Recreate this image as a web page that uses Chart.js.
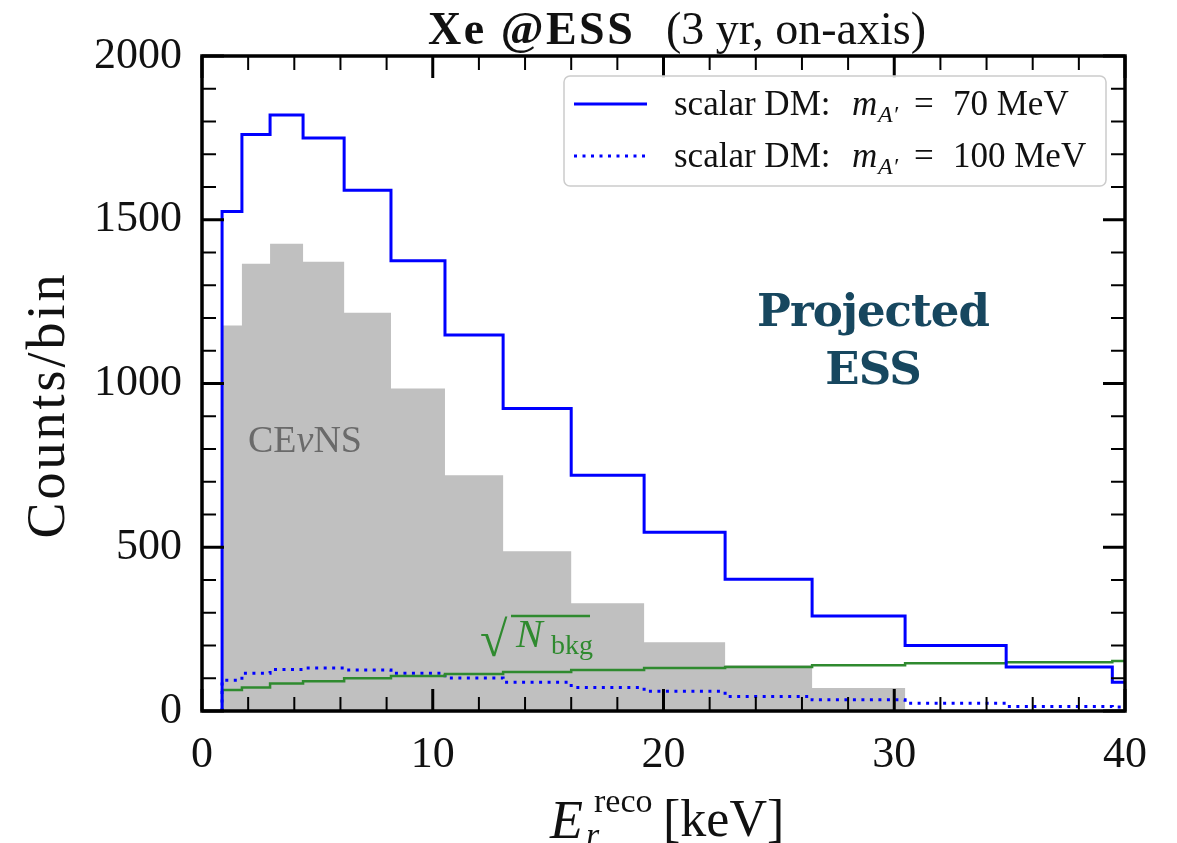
<!DOCTYPE html>
<html>
<head>
<meta charset="utf-8">
<script src="https://cdn.jsdelivr.net/npm/chart.js@4.4.1/dist/chart.umd.min.js"></script>
<style>
  html, body { margin: 0; padding: 0; background: #fff; }
</style>
</head>
<body>
<canvas id="xeChart" width="1177" height="843"></canvas>
<script>
// bin edges of the reconstructed recoil energy [keV] (last bin runs past the axis)
var binEdges = [0.87, 1.73, 2.95, 4.38, 6.16, 8.19, 10.53, 13.05, 16.0, 19.16, 22.67, 26.44, 30.47, 34.85, 39.45, 44.3];

// counts per bin
var cevnsCounts = [1177, 1366, 1427, 1372, 1216, 985, 720, 488, 329, 210, 140, 70, 0, 0, 0];
var dm70Counts = [1525, 1760, 1820, 1750, 1590, 1375, 1148, 924, 720, 546, 402, 290, 200, 134, 88];
var dm100Counts = [94, 115, 127, 131, 125, 115, 101, 88, 72, 60, 44, 34, 24, 14, 12];
var bkgSqrt = [64, 72, 84, 91, 100, 107, 113, 119, 125, 131, 134, 140, 146, 149, 153];

var xTickValues = [0, 10, 20, 30, 40];
var yTickValues = [0, 500, 1000, 1500, 2000];

var serif = "'Liberation Serif', 'Times New Roman', serif";
var blue = '#0000ff';
var green = '#2f8a2f';

// turns bin values into points for a stepped line (starts from zero at the first edge)
function stepPoints(vals) {
    var pts = [{ x: binEdges[0], y: 0 }];
    for (var i = 0; i < vals.length; i++) {
        pts.push({ x: binEdges[i], y: vals[i] });
    }
    pts.push({ x: binEdges[vals.length], y: vals[vals.length - 1] });
    return pts;
}

function line(ctx, x1, y1, x2, y2) {
    ctx.beginPath();
    ctx.moveTo(x1, y1);
    ctx.lineTo(x2, y2);
    ctx.stroke();
}

// frame with inward ticks on all four sides, like the matplotlib original
var frameTicks = {
    id: 'frameTicks',
    afterDatasetsDraw(chart) {
        var ctx = chart.ctx, a = chart.chartArea;
        var xs = chart.scales.x, ys = chart.scales.y;
        ctx.save();
        ctx.strokeStyle = '#000';
        ctx.lineCap = 'butt';
        for (var v = 0; v <= 40; v += 2) {
            var px = xs.getPixelForValue(v);
            var major = xTickValues.indexOf(v) >= 0;
            var len = major ? 22 : 14;
            ctx.lineWidth = major ? 3 : 2;
            line(ctx, px, a.bottom, px, a.bottom - len);
            line(ctx, px, a.top, px, a.top + len);
        }
        for (var w = 0; w <= 2000; w += 100) {
            var py = ys.getPixelForValue(w);
            var majorY = yTickValues.indexOf(w) >= 0;
            var lenY = majorY ? 22 : 14;
            ctx.lineWidth = majorY ? 3 : 2;
            line(ctx, a.left, py, a.left + lenY, py);
            line(ctx, a.right, py, a.right - lenY, py);
        }
        ctx.lineWidth = 3.5;
        ctx.strokeRect(a.left, a.top, a.right - a.left, a.bottom - a.top);
        ctx.restore();
    }
};

// legend, titles and in-plot labels (need sub/superscripts so drawn by hand)
var labels = {
    id: 'labels',
    afterDraw(chart) {
        var ctx = chart.ctx;
        ctx.save();
        ctx.textBaseline = 'alphabetic';
        ctx.textAlign = 'left';

        // legend box
        ctx.fillStyle = 'rgba(255,255,255,0.9)';
        ctx.strokeStyle = '#cccccc';
        ctx.lineWidth = 1.5;
        ctx.beginPath();
        ctx.roundRect(564, 76, 542, 110, 6);
        ctx.fill();
        ctx.stroke();

        var rows = [
            { ds: chart.data.datasets[0], y: 104, mass: '70' },
            { ds: chart.data.datasets[1], y: 156, mass: '100' }
        ];
        rows.forEach(function (r) {
            ctx.strokeStyle = r.ds.borderColor;
            ctx.lineWidth = r.ds.borderWidth;
            ctx.setLineDash(r.ds.borderDash || []);
            line(ctx, 574, r.y, 647, r.y);
            ctx.setLineDash([]);
            ctx.fillStyle = '#111';
            var by = r.y + 11;
            ctx.font = '35px ' + serif;
            ctx.fillText('scalar DM:', 674, by);
            ctx.font = 'italic 35px ' + serif;
            ctx.fillText('m', 852, by);
            ctx.font = 'italic 24px ' + serif;
            ctx.fillText('A\u2032', 878, by + 7);
            ctx.font = '35px ' + serif;
            ctx.fillText('=', 914, by);
            ctx.fillText(r.mass + ' MeV', 953, by);
        });

        // title
        ctx.fillStyle = '#111';
        ctx.letterSpacing = '2.5px';
        ctx.font = 'bold 46px ' + serif;
        ctx.fillText('Xe @ESS', 428, 44);
        ctx.letterSpacing = '0px';
        ctx.font = '46px ' + serif;
        ctx.fillText('(3 yr, on-axis)', 666, 44);

        // y axis title
        ctx.save();
        ctx.translate(64, 405);
        ctx.rotate(-Math.PI / 2);
        ctx.textAlign = 'center';
        ctx.letterSpacing = '3px';
        ctx.font = '54px ' + serif;
        ctx.fillText('Counts/bin', 0, 0);
        ctx.restore();

        // x axis title
        ctx.font = 'italic 54px ' + serif;
        ctx.fillText('E', 550, 838);
        ctx.font = '34px ' + serif;
        ctx.fillText('reco', 594, 812);
        ctx.font = 'italic 34px ' + serif;
        ctx.fillText('r', 586, 846);
        ctx.font = '52px ' + serif;
        ctx.fillText('[keV]', 663, 836);

        // CEvNS label
        ctx.fillStyle = '#6a6a6a';
        ctx.font = '38px ' + serif;
        ctx.fillText('CE', 248, 452);
        var cx = 248 + ctx.measureText('CE').width;
        ctx.font = 'italic 38px ' + serif;
        ctx.fillText('\u03BD', cx, 452);
        cx += ctx.measureText('\u03BD').width;
        ctx.font = '38px ' + serif;
        ctx.fillText('NS', cx, 452);

        // sqrt(N_bkg) label
        ctx.fillStyle = green;
        ctx.strokeStyle = green;
        ctx.font = '50px ' + serif;
        ctx.fillText('\u221A', 480, 656);
        ctx.lineWidth = 2.5;
        line(ctx, 511, 616, 590, 616);
        ctx.font = 'italic 40px ' + serif;
        ctx.fillText('N', 516, 647);
        ctx.font = '28px ' + serif;
        ctx.fillText('bkg', 551, 654);

        // projected ESS note
        ctx.fillStyle = '#17475f';
        ctx.textAlign = 'center';
        ctx.letterSpacing = '-1px';
        ctx.font = "bold 45px 'DejaVu Serif', serif";
        ctx.fillText('Projected', 873, 326);
        ctx.fillText('ESS', 873, 384);
        ctx.restore();
    }
};

function plainTick(v) { return String(v); }

new Chart(document.getElementById('xeChart'), {
    type: 'line',
    data: {
        datasets: [{
            label: 'scalar DM 70 MeV',
            data: stepPoints(dm70Counts),
            borderColor: blue,
            borderWidth: 3,
            stepped: 'before',
            fill: false,
            order: 0
        }, {
            label: 'scalar DM 100 MeV',
            data: stepPoints(dm100Counts),
            borderColor: blue,
            borderWidth: 3,
            borderDash: [3, 5.5],
            stepped: 'before',
            fill: false,
            order: 2
        }, {
            label: 'sqrt N bkg',
            data: stepPoints(bkgSqrt),
            borderColor: green,
            borderWidth: 2.5,
            stepped: 'before',
            fill: false,
            order: 1
        }, {
            label: 'CEvNS',
            data: stepPoints(cevnsCounts),
            borderColor: 'rgba(0,0,0,0)',
            borderWidth: 0,
            backgroundColor: '#c0c0c0',
            stepped: 'before',
            fill: 'origin',
            order: 3
        }]
    },
    options: {
        responsive: false,
        animation: false,
        devicePixelRatio: 1,
        layout: { padding: { top: 56, right: 52, left: 0, bottom: 0 } },
        elements: {
            point: { radius: 0 },
            line: { tension: 0, borderCapStyle: 'butt', borderJoinStyle: 'miter' }
        },
        plugins: {
            legend: { display: false },
            tooltip: { enabled: false },
            title: { display: false }
        },
        scales: {
            x: {
                type: 'linear',
                min: 0,
                max: 40,
                afterFit: function (s) { s.height = 132; },
                afterBuildTicks: function (s) { s.ticks = xTickValues.map(function (v) { return { value: v }; }); },
                grid: { display: false, drawTicks: false },
                border: { display: false },
                ticks: { padding: 18, color: '#111', callback: plainTick, font: { family: serif, size: 44 } }
            },
            y: {
                type: 'linear',
                min: 0,
                max: 2000,
                afterFit: function (s) { s.width = 202; },
                afterBuildTicks: function (s) { s.ticks = yTickValues.map(function (v) { return { value: v }; }); },
                grid: { display: false, drawTicks: false },
                border: { display: false },
                ticks: { padding: 20, color: '#111', callback: plainTick, font: { family: serif, size: 44 } }
            }
        }
    },
    plugins: [frameTicks, labels]
});
</script>
</body>
</html>
